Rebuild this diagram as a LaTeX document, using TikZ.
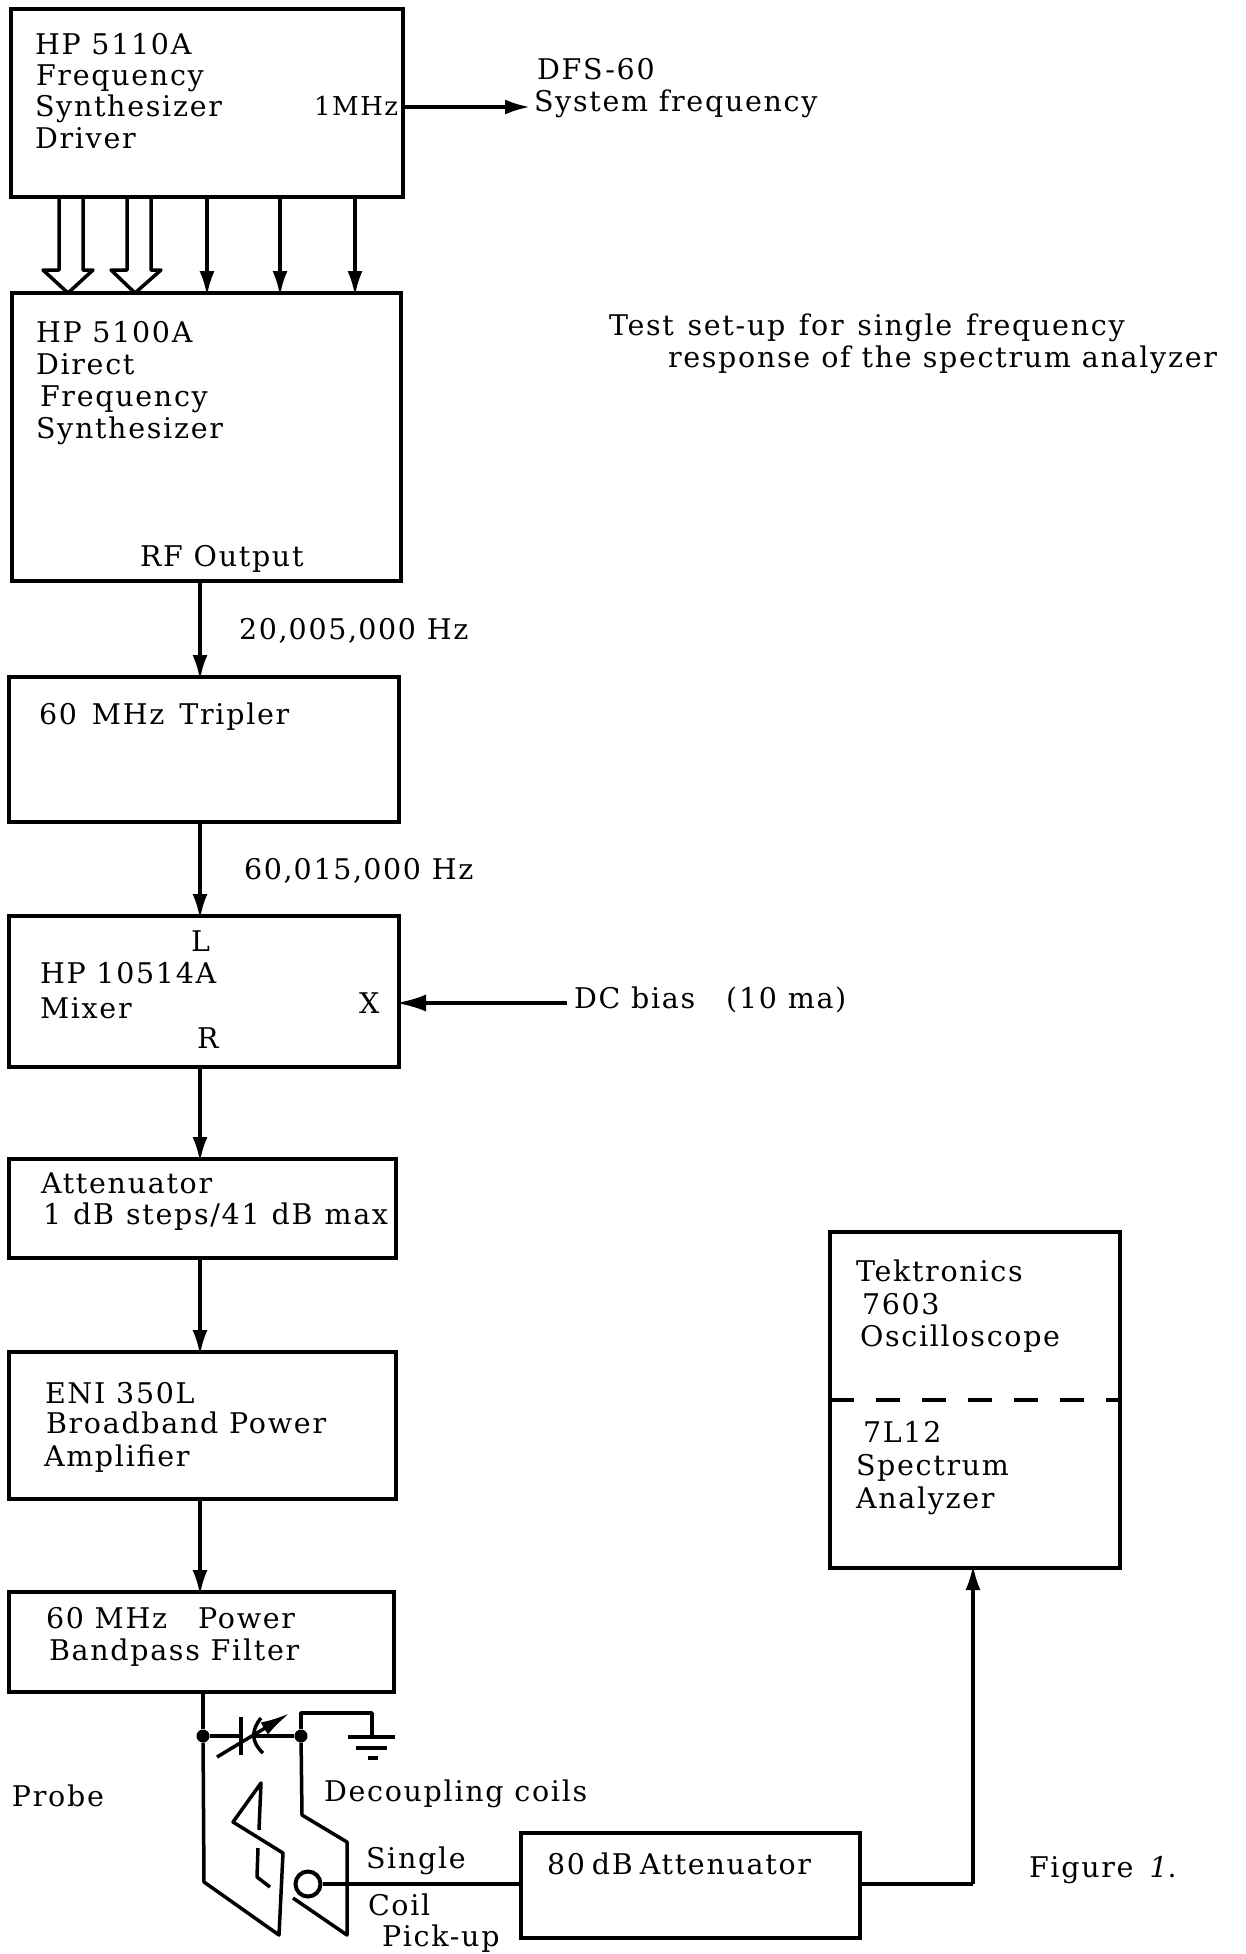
\documentclass[tikz,border=0pt]{standalone}
\usepackage{fontspec}
\setmainfont{DejaVu Serif}[LetterSpace=6]
\usetikzlibrary{arrows.meta}
\begin{document}
\begin{tikzpicture}[
  x=1pt, y=-1pt,
  box/.style={draw=black, line width=4pt, inner sep=0pt, outer sep=0pt, anchor=north west},
  txt/.style={anchor=base west, inner sep=0pt, outer sep=0pt, align=left,
              font=\fontsize{28.5}{31.5}\selectfont},
  wordgap/.style={execute at begin node={\spaceskip=#1pt\relax}},
  sig/.style={-{Latex[length=25pt,width=15pt]}, line width=3.5pt, draw=black, shorten >=-3pt},
  wire/.style={line width=3.5pt, draw=black, line join=round},
  dot/.style={circle, fill=black, inner sep=0pt, minimum size=13pt}
]
\useasboundingbox (0,0) rectangle (1246,1954);

% left column
\node[box, minimum width=392pt, minimum height=188pt] (driver) at (11,9) {};
\node[box, minimum width=389pt, minimum height=288pt] (synth) at (12,293) {};
\node[box, minimum width=390pt, minimum height=145pt] (tripler) at (9,677) {};
\node[box, minimum width=390pt, minimum height=151pt] (mixer) at (9,916) {};
\node[box, minimum width=387pt, minimum height=99pt] (atten) at (9,1159) {};
\node[box, minimum width=387pt, minimum height=147pt] (amp) at (9,1352) {};
\node[box, minimum width=385pt, minimum height=100pt] (filter) at (9,1592) {};

% right side
\node[box, minimum width=290pt, minimum height=336pt] (scope) at (830,1232) {};
\node[box, minimum width=339pt, minimum height=105pt] (pad) at (521,1833) {};
\draw[line width=3.5pt, dash pattern=on 24pt off 22pt] (scope.west) -- (scope.east);

% labels
\node[txt] (l1) at (35,54) {HP 5110A};
\node[txt] (l2) at (36,85) {Frequency};
\node[txt] (l3) at (35,116) {Synthesizer};
\node[txt] (l4) at (35,148) {Driver};
\node[txt, font=\fontsize{26}{31.5}\selectfont] (lmhz) at (314,115) {1MHz};
\node[txt] (ldfs) at (537,79) {DFS-60};
\node[txt] (lsys) at (534,111) {System frequency};
\node[txt, wordgap=13.7] (ltest) at (609,335) {Test set-up for single frequency};
\node[txt, wordgap=11] (lresp) at (668,367) {response of the spectrum analyzer};
\node[txt] (l5) at (36,342) {HP 5100A};
\node[txt] (l6) at (36,374) {Direct};
\node[txt] (l7) at (40,406) {Frequency};
\node[txt] (l8) at (36,438) {Synthesizer};
\node[txt] (lrf) at (140,566) {RF Output};
\node[txt] (lf1) at (239,639) {20,\hspace{1pt}005,\hspace{1pt}000 Hz};
\node[txt, wordgap=15] (ltr) at (39,724) {60 MHz Tripler};
\node[txt] (lf2) at (244,879) {60,\hspace{1pt}015,\hspace{1pt}000 Hz};
\node[txt] (ll) at (191,951) {L};
\node[txt] (lmx) at (40,983) {HP 10514A};
\node[txt] (lmx2) at (40,1018) {Mixer};
\node[txt] (lr) at (197,1048) {R};
\node[txt] (lx) at (359,1013) {X};
\node[txt] (ldc) at (574,1008) {DC bias\hspace{31pt}(10 ma)};
\node[txt] (lat) at (41,1193) {Attenuator};
\node[txt, wordgap=12] (lat2) at (43,1224) {1 dB steps/41 dB max};
\node[txt] (lam) at (45,1403) {ENI 350L};
\node[txt] (lam2) at (46,1433) {Broadband Power};
\node[txt] (lam3) at (44,1466) {Amplifier};
\node[txt] (lfi) at (46,1628) {60 MHz\hspace{31pt}Power};
\node[txt] (lfi2) at (49,1660) {Bandpass Filter};
\node[txt] (lsc) at (856,1281) {Tektronics};
\node[txt] (lsc2) at (862,1314) {7603};
\node[txt] (lsc3) at (860,1346) {Oscilloscope};
\node[txt] (lsp) at (863,1442) {7L12};
\node[txt] (lsp2) at (856,1475) {Spectrum};
\node[txt] (lsp3) at (856,1508) {Analyzer};
\node[txt] (lprobe) at (12,1806) {Probe};
\node[txt] (ldec) at (324,1801) {Decoupling coils};
\node[txt] (lsi) at (366,1868) {Single};
\node[txt] (lco) at (368,1915) {Coil};
\node[txt] (lpi) at (382,1946) {Pick-up};
\node[txt, wordgap=7] (lpad) at (547,1874) {80 dB Attenuator};
\node[txt] (lfig) at (1029,1877) {Figure\hspace{16pt}\textit{1}.};

% driver outputs
\coordinate (sysin) at (530,107);
\coordinate (dcin) at (567,1003);
\draw[sig, shorten >=0pt] (driver.east |- sysin) -- (sysin);
\foreach \xa/\xb/\xt in {59/83/68, 127/151/135}
  \draw[wire] (\xa,0 |- driver.south) -- (\xa,270) -- (\xa-16,270) -- (\xt,0 |- synth.north)
    -- (\xb+10,270) -- (\xb,270) -- (\xb,0 |- driver.south);
\foreach \x in {207,280,355}
  \draw[sig] (\x,0 |- driver.south) -- (\x,0 |- synth.north);

% main chain
\foreach \a/\b in {synth/tripler, tripler/mixer, mixer/atten, atten/amp, amp/filter}
  \draw[sig] (200,0 |- \a.south) -- (200,0 |- \b.north);
\draw[-{Latex[length=30pt,width=17pt]}, line width=3.5pt, shorten >=-3pt] (dcin) -- (mixer.east |- dcin);

% probe
\node[dot] (ja) at (203,1736) {};
\node[dot] (jb) at (301,1736) {};
\coordinate (capl) at (241,1736);
\coordinate (capr) at (254,1736);
\coordinate (gnd) at (372,1737);
\draw[wire] (203,0 |- filter.south) -- (ja);
\draw[wire] (ja) -- (capl);
\draw[wire] (capr) -- (jb);
\draw[wire] (241,1717) -- (241,1755);
\draw[wire] (261,1718) .. controls (251,1730) and (251,1742) .. (263,1753);
\draw[-{Latex[length=30pt,width=14pt]}, line width=3.5pt] (217,1757) -- (290,1713);
\draw[wire] (jb) -- (301,1713) -- (372,1713) -- (gnd);
\draw[wire] (348,1737) -- (395,1737);
\draw[wire] (356,1748) -- (387,1748);
\draw[wire] (368,1758) -- (378,1758);

% coils
\node[circle, draw=black, line width=4pt, minimum size=25pt, inner sep=0pt] (pick) at (308,1884) {};
\draw[wire] (ja) -- (204,1882) -- (279,1935) -- (283,1853) -- (233,1822) -- (261,1783) -- (259,1830);
\draw[wire] (258,1848) -- (257,1877) -- (270,1887);
\draw[wire] (jb) -- (302,1815) -- (347,1842) -- (347,1935) -- (293,1898);
\draw[wire] (pick) -- (pad.west |- pick);
\coordinate (bend) at (973,1884);
\draw[wire] (pad.east |- bend) -- (bend);
\draw[sig] (bend) -- (bend |- scope.south);
\end{tikzpicture}
\end{document}
